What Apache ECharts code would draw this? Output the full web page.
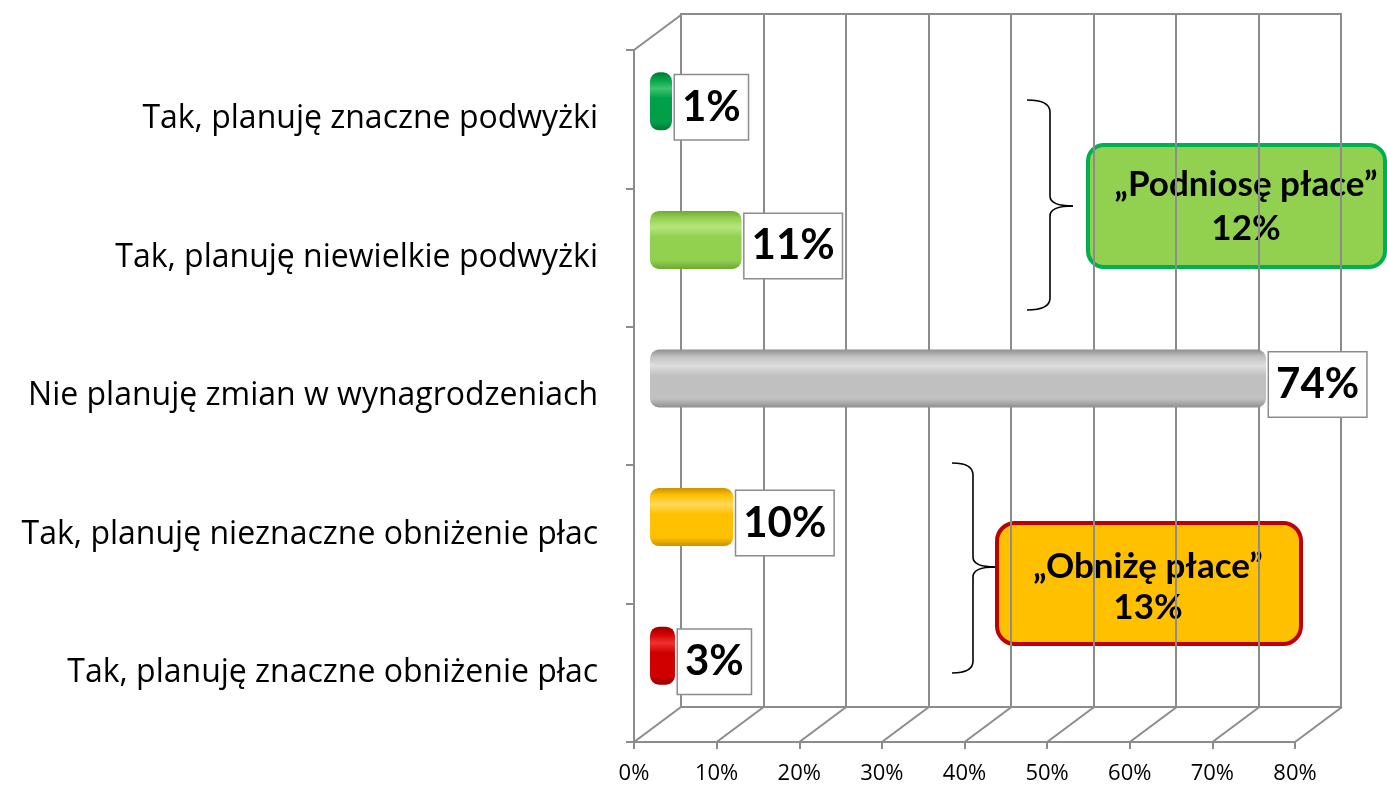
<!DOCTYPE html>
<html>
<head>
<meta charset="utf-8">
<script src="https://cdn.jsdelivr.net/npm/echarts@6/dist/echarts.min.js"></script>
<style>
  html, body { margin: 0; padding: 0; background: #fff; }
  #chart { width: 1387px; height: 789px; }
</style>
</head>
<body>
<div id="chart"></div>
<script>
// dane
const categories = [
  'Tak, planuję znaczne podwyżki',
  'Tak, planuję niewielkie podwyżki',
  'Nie planuję zmian w wynagrodzeniach',
  'Tak, planuję nieznaczne obniżenie płac',
  'Tak, planuję znaczne obniżenie płac'
]
const values = [0.01, 0.11, 0.74, 0.10, 0.03]
const barColors = [
  ['#3cc46e', '#00a04a', '#007a35'],
  ['#b8e57e', '#92d050', '#6fa832'],
  ['#dedede', '#c0c0c0', '#8f8f8f'],
  ['#ffd95a', '#ffc000', '#c99400'],
  ['#f03030', '#d00000', '#960000']
]
const tickValues = [0, 0.1, 0.2, 0.3, 0.4, 0.5, 0.6, 0.7, 0.8]

// przesunięcie tylnej ściany (efekt 3D)
const DX = 47
const DY = -35
const FONT = '"Open Sans", "Noto Sans", sans-serif'
const BOLD_FONT = 'Lato, "Noto Sans", sans-serif'
const GRAY = '#8c8c8c'

const up = values[0] + values[1]
const down = values[3] + values[4]

// nawias klamrowy "}"
function brace(x0, x1, x2, y0, ym, y1) {
  const st = { stroke: '#000', lineWidth: 1.6, fill: 'none' }
  return {
    type: 'group',
    children: [
      { type: 'bezierCurve', shape: { x1: x0, y1: y0, cpx1: x1, cpy1: y0, x2: x1, y2: y0 + 12 }, style: st },
      { type: 'line', shape: { x1: x1, y1: y0 + 12, x2: x1, y2: ym - 10 }, style: st },
      { type: 'bezierCurve', shape: { x1: x1, y1: ym - 10, cpx1: x1, cpy1: ym, x2: x2, y2: ym }, style: st },
      { type: 'bezierCurve', shape: { x1: x2, y1: ym, cpx1: x1, cpy1: ym, x2: x1, y2: ym + 10 }, style: st },
      { type: 'line', shape: { x1: x1, y1: ym + 10, x2: x1, y2: y1 - 12 }, style: st },
      { type: 'bezierCurve', shape: { x1: x1, y1: y1 - 12, cpx1: x1, cpy1: y1, x2: x0, y2: y1 }, style: st }
    ]
  }
}

const chart = echarts.init(document.getElementById('chart'))

const barData = values.map((v, i) => ({
  value: v,
  itemStyle: {
    color: {
      type: 'linear', x: 0, y: 0, x2: 0, y2: 1,
      colorStops: [
        { offset: 0, color: barColors[i][2] },
        { offset: 0.12, color: barColors[i][1] },
        { offset: 0.28, color: barColors[i][0] },
        { offset: 0.45, color: barColors[i][1] },
        { offset: 0.85, color: barColors[i][1] },
        { offset: 1, color: barColors[i][2] }
      ]
    }
  }
}))

const option = {
  animation: false,
  grid: [
    // przód
    { left: 634, right: 92, top: 50, bottom: 47 },
    // tylna ściana
    { left: 681, right: 46, top: 14, bottom: 82, show: true, borderColor: GRAY, borderWidth: 2 },
    // środek - słupki
    { left: 650, right: 71, top: 32, bottom: 64 }
  ],
  xAxis: [
    {
      gridIndex: 0, type: 'value', min: 0, max: 0.8, interval: 0.1,
      axisLine: { show: true, lineStyle: { color: GRAY, width: 2 } },
      axisTick: { show: true, length: 7, lineStyle: { color: GRAY, width: 2 } },
      splitLine: { show: false },
      axisLabel: {
        formatter: (v) => Math.round(v * 100) + '%',
        fontSize: 22, color: '#000', fontFamily: FONT, margin: 21
      }
    },
    {
      gridIndex: 1, type: 'value', min: 0, max: 0.8, interval: 0.1,
      axisLine: { show: false }, axisTick: { show: false }, axisLabel: { show: false },
      splitLine: { show: true, lineStyle: { color: GRAY, width: 2 } }
    },
    {
      gridIndex: 2, type: 'value', min: 0, max: 0.8, show: false
    }
  ],
  yAxis: [
    {
      gridIndex: 0, type: 'category', data: categories, inverse: true,
      axisLine: { show: true, lineStyle: { color: GRAY, width: 2 } },
      axisTick: { show: true, length: 8, lineStyle: { color: GRAY, width: 2 } },
      axisLabel: { fontSize: 32, color: '#000', fontFamily: FONT, margin: 36 }
    },
    {
      gridIndex: 1, type: 'category', data: categories, inverse: true, show: false
    },
    {
      gridIndex: 2, type: 'category', data: categories, inverse: true, show: false
    }
  ],
  series: [
    {
      // linie podłogi i lewej ściany
      type: 'custom',
      xAxisIndex: 0, yAxisIndex: 0,
      data: tickValues.map((v) => [v, 0]),
      encode: { x: 0, y: 1 },
      silent: true,
      renderItem(params, api) {
        const cs = params.coordSys
        const x = api.coord([api.value(0), 0])[0]
        const yb = cs.y + cs.height
        const style = { stroke: GRAY, lineWidth: 2 }
        const children = [
          { type: 'line', shape: { x1: x, y1: yb, x2: x + DX, y2: yb + DY }, style }
        ]
        if (params.dataIndex === 0) {
          children.push({ type: 'line', shape: { x1: x, y1: cs.y, x2: x + DX, y2: cs.y + DY }, style })
        }
        return { type: 'group', children }
      }
    },
    {
      type: 'bar',
      xAxisIndex: 2, yAxisIndex: 2,
      data: barData,
      barWidth: 58,
      barMinHeight: 22,
      itemStyle: { borderRadius: 9 },
      label: {
        show: true,
        position: 'right',
        distance: 3,
        offset: [0, 6],
        formatter: (p) => Math.round(p.value * 100) + '%',
        fontSize: 42,
        fontWeight: 'bold',
        fontFamily: BOLD_FONT,
        color: '#000',
        backgroundColor: '#fff',
        borderColor: GRAY,
        borderWidth: 1.5,
        padding: [12, 7, 10, 7]
      }
    }
  ],
  graphic: [
    brace(1027, 1050, 1073, 100, 206, 310),
    brace(952, 973, 995, 463, 567, 673),
    {
      type: 'rect',
      shape: { x: 1088, y: 145, width: 297, height: 122, r: 16 },
      style: { fill: '#92d050', stroke: '#00b050', lineWidth: 4 }
    },
    {
      type: 'text',
      x: 1246, y: 207,
      style: {
        text: '„Podniosę płace”\n' + Math.round(up * 100) + '%',
        fill: '#000', font: 'bold 35px ' + BOLD_FONT,
        align: 'center', verticalAlign: 'middle', lineHeight: 44
      }
    },
    {
      type: 'rect',
      shape: { x: 997, y: 523, width: 304, height: 121, r: 18 },
      style: { fill: '#ffc000', stroke: '#c00000', lineWidth: 4 }
    },
    {
      type: 'text',
      x: 1148, y: 587,
      style: {
        text: '„Obniżę płace”\n' + Math.round(down * 100) + '%',
        fill: '#000', font: 'bold 35px ' + BOLD_FONT,
        align: 'center', verticalAlign: 'middle', lineHeight: 41
      }
    }
  ]
}

chart.setOption(option)
</script>
</body>
</html>
